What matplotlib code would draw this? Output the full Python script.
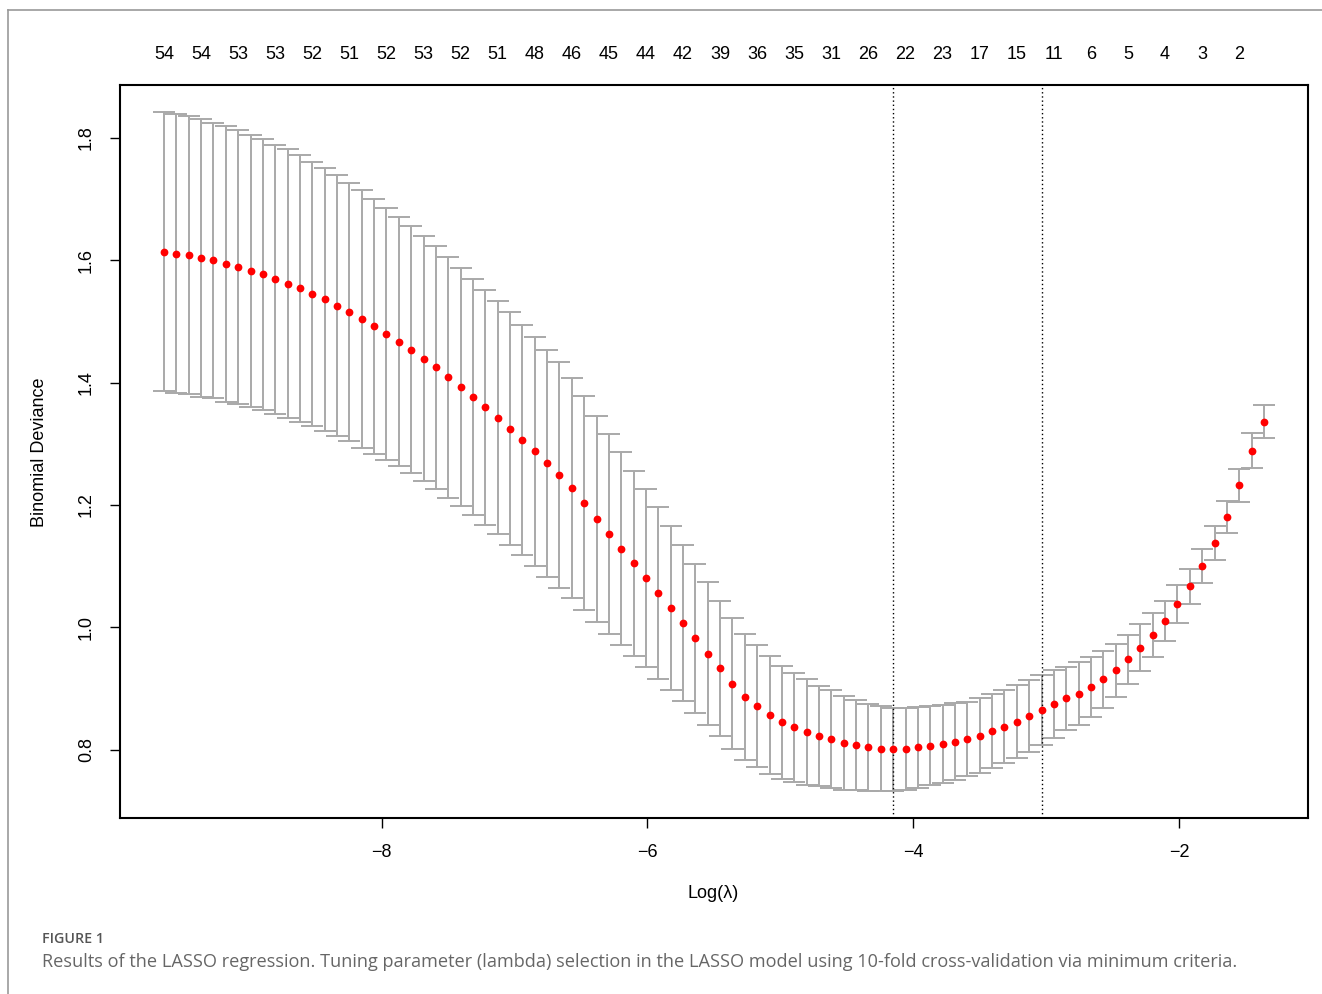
import matplotlib.pyplot as plt
import numpy as np
from matplotlib.lines import Line2D

# log(lambda) grid of the cv.glmnet fit
log_lambda = [-9.637, -9.544, -9.451, -9.358, -9.265, -9.172, -9.079, -8.986, -8.893, -8.800,
              -8.707, -8.614, -8.521, -8.428, -8.335, -8.242, -8.149, -8.056, -7.963, -7.870,
              -7.777, -7.684, -7.591, -7.498, -7.405, -7.312, -7.219, -7.127, -7.034, -6.941,
              -6.848, -6.755, -6.662, -6.569, -6.476, -6.383, -6.290, -6.197, -6.104, -6.011,
              -5.918, -5.825, -5.732, -5.639, -5.546, -5.453, -5.360, -5.267, -5.174, -5.081,
              -4.988, -4.895, -4.802, -4.709, -4.616, -4.523, -4.430, -4.337, -4.244, -4.151,
              -4.058, -3.965, -3.872, -3.779, -3.686, -3.593, -3.500, -3.407, -3.314, -3.221,
              -3.128, -3.035, -2.942, -2.849, -2.756, -2.663, -2.570, -2.477, -2.384, -2.291,
              -2.198, -2.105, -2.012, -1.919, -1.826, -1.733, -1.640, -1.547, -1.454, -1.361]

# mean cross-validated binomial deviance
cvm = [1.614, 1.611, 1.608, 1.603, 1.600, 1.594, 1.589, 1.583, 1.577, 1.569,
       1.562, 1.554, 1.545, 1.536, 1.526, 1.515, 1.504, 1.492, 1.480, 1.467,
       1.454, 1.439, 1.425, 1.409, 1.393, 1.377, 1.360, 1.343, 1.325, 1.307,
       1.288, 1.268, 1.249, 1.228, 1.204, 1.177, 1.153, 1.129, 1.105, 1.081,
       1.056, 1.032, 1.007, 0.982, 0.957, 0.933, 0.908, 0.887, 0.872, 0.857,
       0.845, 0.837, 0.829, 0.823, 0.817, 0.811, 0.808, 0.804, 0.802, 0.801,
       0.802, 0.804, 0.807, 0.810, 0.813, 0.818, 0.823, 0.831, 0.838, 0.846,
       0.855, 0.865, 0.875, 0.884, 0.892, 0.902, 0.915, 0.930, 0.948, 0.967,
       0.988, 1.011, 1.038, 1.067, 1.100, 1.138, 1.181, 1.232, 1.289, 1.336]

# standard error of the cv deviance
cvsd = [0.228, 0.228, 0.227, 0.227, 0.225, 0.225, 0.224, 0.222, 0.221, 0.220,
        0.219, 0.218, 0.216, 0.215, 0.213, 0.211, 0.210, 0.208, 0.206, 0.204,
        0.202, 0.200, 0.198, 0.197, 0.195, 0.193, 0.192, 0.191, 0.190, 0.188,
        0.187, 0.186, 0.184, 0.180, 0.175, 0.168, 0.163, 0.157, 0.151, 0.145,
        0.140, 0.134, 0.127, 0.122, 0.117, 0.111, 0.107, 0.103, 0.100, 0.096,
        0.092, 0.089, 0.086, 0.082, 0.080, 0.077, 0.073, 0.071, 0.069, 0.068,
        0.067, 0.066, 0.065, 0.064, 0.063, 0.061, 0.061, 0.061, 0.060, 0.060,
        0.059, 0.057, 0.055, 0.052, 0.051, 0.049, 0.046, 0.043, 0.040, 0.038,
        0.036, 0.033, 0.031, 0.029, 0.028, 0.027, 0.026, 0.027, 0.028, 0.027]

# number of nonzero coefficients shown on top (every 3rd lambda)
nzero_labels = ["54", "54", "53", "53", "52", "51", "52", "53", "52", "51",
                "48", "46", "45", "44", "42", "39", "36", "35", "31", "26",
                "22", "23", "17", "15", "11", "6", "5", "4", "3", "2"]

lambda_min = -4.151
lambda_1se = -3.035

x = np.array(log_lambda)
m = np.array(cvm)
sd = np.array(cvsd)
upper = m + sd
lower = m - sd

plt.rcParams['font.family'] = ['Liberation Sans', 'DejaVu Sans']

fig = plt.figure(figsize=(13.22, 9.94), dpi=100)
ax = fig.add_axes([120/1322, 1-818/994, (1308-120)/1322, (818-85)/994])

barw = 0.083
bar_col = '#a9a9a9'
ax.vlines(x, lower, upper, color=bar_col, lw=1.4)
ax.hlines(upper, x - barw, x + barw, color=bar_col, lw=1.4)
ax.hlines(lower, x - barw, x + barw, color=bar_col, lw=1.4)
ax.plot(x, m, 'o', color='red', ms=5.6, mec='none', zorder=3)

ax.axvline(lambda_min, color='black', ls=(0, (1, 2)), lw=1.0)
ax.axvline(lambda_1se, color='black', ls=(0, (1, 2)), lw=1.0)

# R style limits (4% padding)
xr = x.max() - x.min()
yr = upper.max() - lower.min()
ax.set_xlim(x.min() - 0.04*xr, x.max() + 0.04*xr)
ax.set_ylim(lower.min() - 0.04*yr, upper.max() + 0.04*yr)

ax.set_xticks([-8, -6, -4, -2])
ax.set_xticklabels(['\u22128', '\u22126', '\u22124', '\u22122'])
ax.set_yticks([0.8, 1.0, 1.2, 1.4, 1.6, 1.8])
ax.set_yticklabels(['0.8', '1.0', '1.2', '1.4', '1.6', '1.8'])
ax.tick_params(axis='both', direction='out', length=7, width=1.0, labelsize=13)
ax.tick_params(axis='x', pad=12)
ax.tick_params(axis='y', pad=11, labelrotation=90)
for lab in ax.get_yticklabels():
    lab.set_va('center')
for s in ax.spines.values():
    s.set_linewidth(1.5)

top = ax.secondary_xaxis('top')
top.set_xticks(x[::3])
top.set_xticklabels(nzero_labels)
top.tick_params(length=0, pad=16, labelsize=13)
top.spines['top'].set_visible(False)

fig.text(713/1322, 1-894/994, 'Log(\u03bb)', ha='center', va='center', fontsize=13)
fig.text(40/1322, 1-452/994, 'Binomial Deviance', ha='center', va='center',
         rotation=90, fontsize=13)

# caption
fig.text(42/1322, 1-939/994, 'FIGURE 1', ha='left', va='center', fontsize=10.3,
         color='#555555', family='Open Sans', fontweight='semibold')
fig.text(42/1322, 1-962/994,
         'Results of the LASSO regression. Tuning parameter (lambda) selection in the LASSO model '
         'using 10-fold cross-validation via minimum criteria.',
         ha='left', va='center', fontsize=13.1, color='#666666', family='Open Sans')

# page frame
fig.add_artist(Line2D([8/1322, 8/1322], [0, 1-10/994], color='#999999', lw=1.2))
fig.add_artist(Line2D([8/1322, 1], [1-10/994, 1-10/994], color='#999999', lw=1.2))

fig.savefig('out.png', dpi=100)
